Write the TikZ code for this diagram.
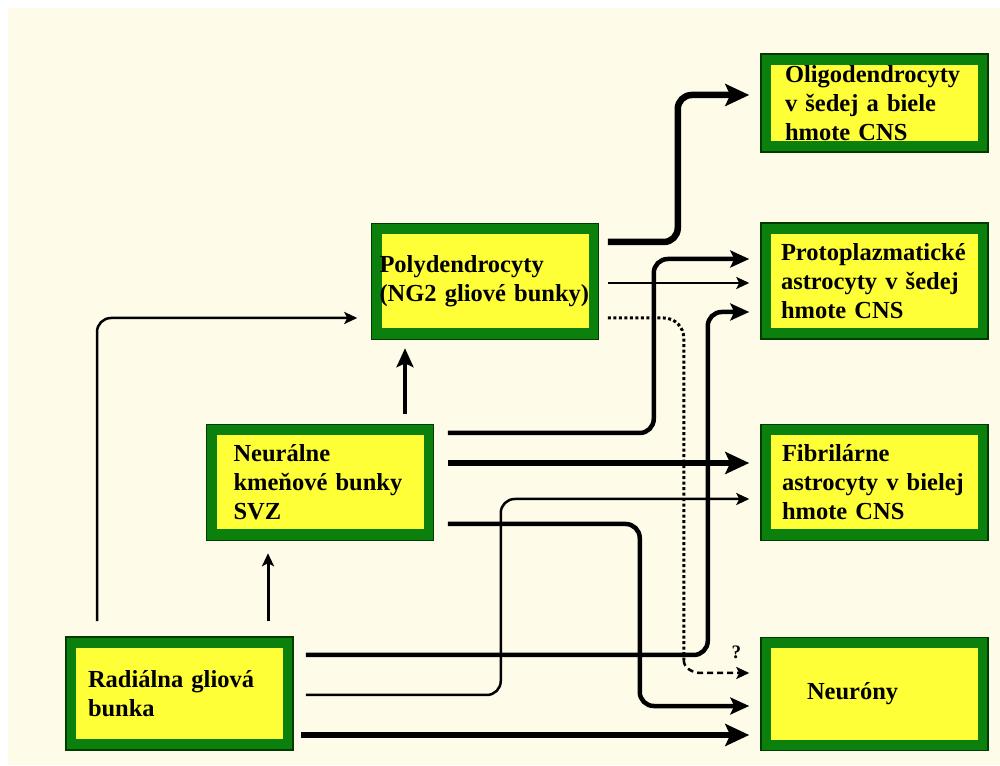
\documentclass[tikz,border=0pt]{standalone}
\usepackage{fontspec}
\setmainfont{Liberation Serif}
\usetikzlibrary{arrows.meta}
\definecolor{paper}{RGB}{254,252,232}
\definecolor{boxgreen}{RGB}{12,128,12}
\definecolor{boxedge}{RGB}{0,60,0}
\definecolor{boxyellow}{RGB}{255,255,56}
\tikzset{
  cell/.style={draw=boxedge, line width=1.5pt, fill=boxgreen,
    minimum width=227pt, minimum height=116pt, inner ysep=0pt, align=left,
    font=\bfseries\fontsize{24.5}{29}\selectfont,
    path picture={\fill[boxyellow]
      ([shift={(10pt,-11pt)}]path picture bounding box.north west) rectangle
      ([shift={(-10pt,11pt)}]path picture bounding box.south east);}},
  thickarrow/.style={line width=6.5pt, -{Stealth[length=24pt,width=22pt,inset=5pt]}},
  midarrow/.style={line width=4.5pt, -{Stealth[length=19pt,width=17pt,inset=4pt]}},
  thinarrow/.style={line width=2.5pt, -{Stealth[length=13pt,width=12pt,inset=3pt]}},
  dotline/.style={line width=3pt, dash pattern=on 3pt off 2.5pt},
  dashline/.style={line width=2.5pt, dash pattern=on 6pt off 4pt,
    -{Stealth[length=13pt,width=12pt,inset=3pt]}},
  qmark/.style={font=\bfseries\fontsize{19}{22}\selectfont, inner sep=0pt},
}
\begin{document}
\begin{tikzpicture}[x=1pt,y=1pt]
\useasboundingbox (0,0) rectangle (1000,765);
\fill[white] (0,0) rectangle (1000,765);
\fill[paper] (8,0) rectangle (1000,757);
%% cell types on the right
\node[cell, minimum height=98pt, inner xsep=24pt, text width=179pt] (olig) at (874.5,662)
  {Oligodendrocyty\\v šedej a biele\\hmote CNS};
\node[cell, inner xsep=20pt, text width=187pt] (proto) at (874.5,484)
  {Protoplazmatické\\astrocyty v šedej\\hmote CNS};
\node[cell, inner xsep=21pt, text width=185pt] (fibr) at (874.5,282.5)
  {Fibrilárne\\astrocyty v bielej\\hmote CNS};
\node[cell, minimum height=113pt, inner xsep=46pt, text width=135pt] (neur) at (874.5,71)
  {Neuróny};
%% progenitors
\node[cell, inner xsep=8pt, text width=211pt] (poly) at (485,483.5)
  {Polydendrocyty\\(NG2 gliové bunky)};
\node[cell, inner xsep=27pt, text width=173pt] (nkb) at (320,282.5)
  {Neurálne\\kmeňové bunky\\SVZ};
\node[cell, minimum height=113pt, inner xsep=22pt, text width=183pt] (rad) at (179.5,71.5)
  {Radiálna gliová\\bunka};
%% from polydendrocyty
\draw[thickarrow, rounded corners=14pt] ([shift={(8.5,39.5)}]poly.east) -- ++(70,0)
  |- ([shift={(-11,8)}]olig.west);
\draw[thinarrow] ([shift={(8.5,-1.5)}]poly.east) -- ([shift={(-11,-2)}]proto.west);
\draw[dotline, rounded corners=20pt] ([shift={(8.5,-36.5)}]poly.east) -| ++(76,-342)
  coordinate (qturn);
\draw[dashline] (qturn) to[out=-90,in=180] ++(18,-13) -- ([shift={(-11,21)}]neur.west);
\node[qmark] (qm) at ([shift={(-24,42)}]neur.west) {?};
%% from neural stem cells
\draw[midarrow, rounded corners=14pt] ([shift={(13.5,49.5)}]nkb.east) -- ++(206,0)
  |- ([shift={(-11,22)}]proto.west);
\draw[thickarrow] ([shift={(13.5,19.5)}]nkb.east) -- ([shift={(-11,19.5)}]fibr.west);
\draw[midarrow, rounded corners=14pt] ([shift={(13.5,-41.5)}]nkb.east) -- ++(192,0)
  |- ([shift={(-11,-12)}]neur.west);
\draw[midarrow] ([shift={(85,10)}]nkb.north) -- ([shift={(-80,-8)}]poly.south);
%% from radial glia
\draw[midarrow, rounded corners=14pt] ([shift={(12,38.5)}]rad.east) -- ++(402,0)
  |- ([shift={(-11,-31)}]proto.west);
\draw[thinarrow, rounded corners=14pt] ([shift={(12,-1.5)}]rad.east) -- ++(195,0)
  |- ([shift={(-11,-16.5)}]fibr.west);
\draw[thickarrow] ([shift={(7,-41.5)}]rad.east) -- ([shift={(-11,-41)}]neur.west);
\draw[thinarrow, rounded corners=14pt] ([shift={(-82.5,15)}]rad.north)
  |- ([shift={(-13.5,-36.5)}]poly.west);
\draw[thinarrow, line width=3pt] ([shift={(88.5,15)}]rad.north) -- ([shift={(-52,-12)}]nkb.south);
\end{tikzpicture}
\end{document}
